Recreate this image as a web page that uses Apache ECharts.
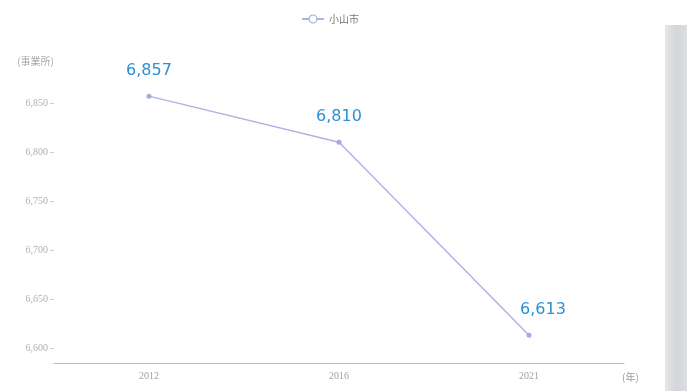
<!DOCTYPE html>
<html>
<head>
<meta charset="utf-8">
<script src="https://cdn.jsdelivr.net/npm/echarts@6/dist/echarts.min.js"></script>
<style>
  html, body { margin: 0; padding: 0; background: #ffffff; }
  #chart { width: 691px; height: 391px; }
</style>
</head>
<body>
<div id="chart"></div>
<script>
// 小山市の事業所数の推移
const years = ['2012', '2016', '2021'];
const establishments = [6857, 6810, 6613];
const seriesName = '小山市';
const yAxisTitle = '(事業所)';
const xAxisTitle = '(年)';

const chart = echarts.init(document.getElementById('chart'), null, { renderer: 'canvas' });

const fmt = v => v.toLocaleString('en-US');

// the last point carries its label shifted to the right of the marker
const points = establishments.map((v, i) => {
  const p = { value: v };
  if (i === establishments.length - 1) p.label = { offset: [14, 0] };
  return p;
});

chart.setOption({
  backgroundColor: '#ffffff',
  animation: false,
  legend: {
    data: [seriesName],
    left: 296,
    top: 9,
    itemWidth: 22,
    itemHeight: 10,
    itemGap: 10,
    itemStyle: { color: '#ffffff', borderColor: '#a3abe3', borderWidth: 1.2 },
    textStyle: { color: '#777777', fontSize: 10, fontFamily: 'Noto Sans CJK JP' }
  },
  grid: { left: 54, right: 67, top: 54, bottom: 43 },
  xAxis: {
    type: 'category',
    data: years,
    offset: 15,
    boundaryGap: true,
    name: xAxisTitle,
    nameLocation: 'end',
    nameGap: -2,
    nameTextStyle: {
      color: '#999999', fontSize: 10, fontFamily: 'Noto Sans CJK JP',
      verticalAlign: 'top', align: 'left', padding: [9, 0, 0, 0]
    },
    axisLine: { show: true, lineStyle: { color: '#b8b8b8', width: 1 } },
    axisTick: { show: false },
    axisLabel: { color: '#a0a0a0', fontSize: 10, fontFamily: 'Liberation Serif', margin: 8 },
    splitLine: { show: false }
  },
  yAxis: {
    type: 'value',
    min: 6600,
    max: 6900,
    interval: 50,
    name: yAxisTitle,
    nameLocation: 'end',
    nameGap: -7,
    nameTextStyle: {
      color: '#a8a8a8', fontSize: 10, fontFamily: 'Noto Sans CJK JP',
      align: 'right', verticalAlign: 'middle'
    },
    axisLine: { show: false },
    axisTick: { show: true, length: 4, lineStyle: { color: '#d0d0d0' } },
    axisLabel: {
      color: '#b0b0b0', fontSize: 10, fontFamily: 'Liberation Serif', margin: 6,
      showMaxLabel: false,
      formatter: v => fmt(v)
    },
    splitLine: { show: false }
  },
  series: [{
    name: seriesName,
    type: 'line',
    data: points,
    symbol: 'circle',
    symbolSize: 5,
    lineStyle: { color: '#adb3e6', width: 1.5 },
    itemStyle: { color: '#a3abe3' },
    label: {
      show: true,
      position: 'top',
      distance: 15,
      color: '#2b90d9',
      fontSize: 16,
      fontFamily: 'DejaVu Sans',
      formatter: p => fmt(p.value)
    }
  }],
  // page gutter shading along the right edge
  graphic: [{
    type: 'rect',
    shape: { x: 665, y: 25, width: 22, height: 366 },
    style: {
      fill: new echarts.graphic.LinearGradient(0, 0, 1, 0, [
        { offset: 0, color: '#e6e7ea' },
        { offset: 0.5, color: '#d4d6da' },
        { offset: 1, color: '#dcdee1' }
      ])
    },
    silent: true,
    z: 0
  }]
});
</script>
</body>
</html>
